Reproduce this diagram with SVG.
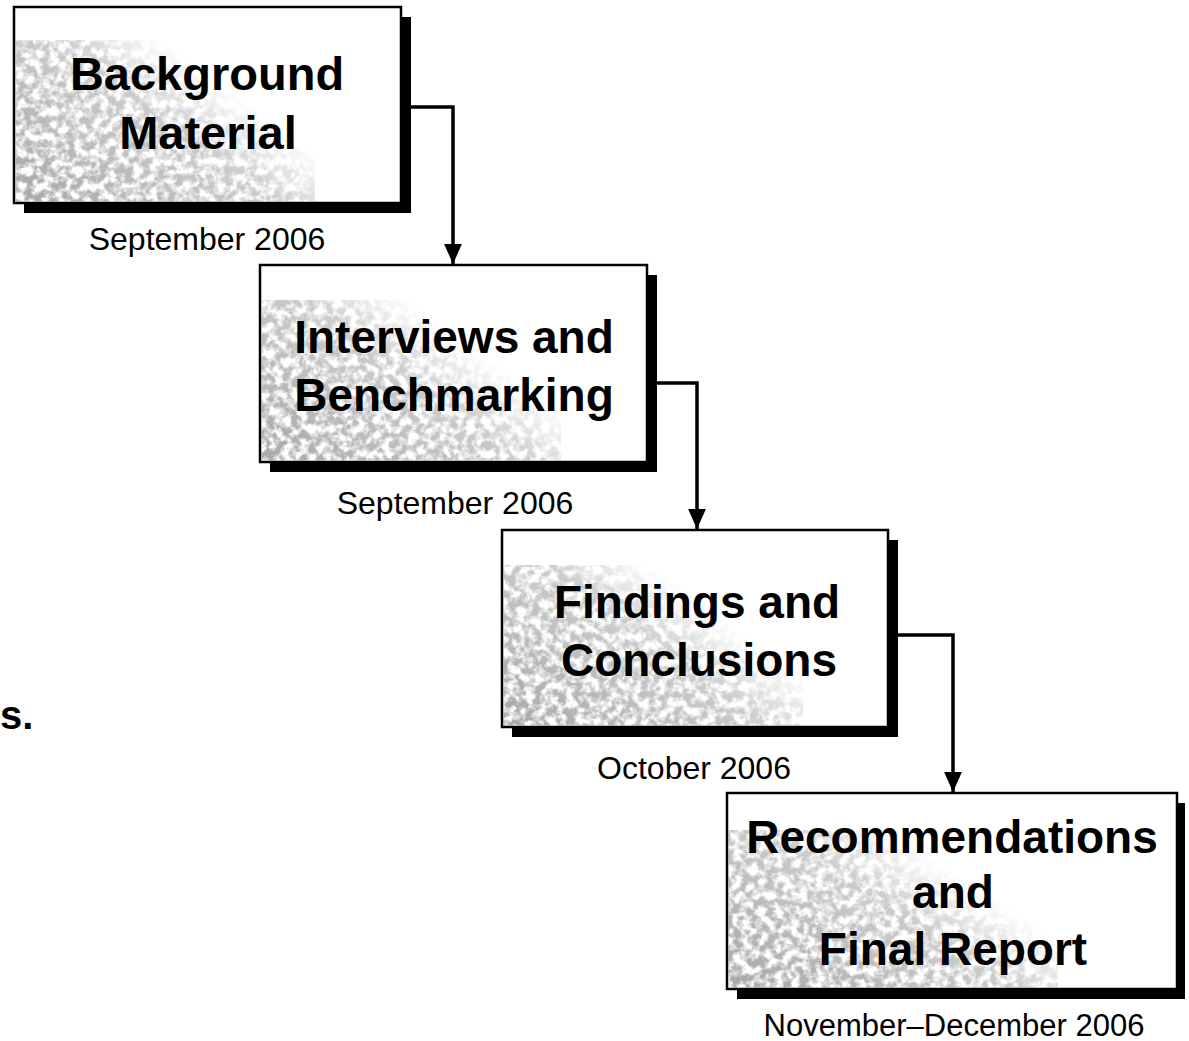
<svg xmlns="http://www.w3.org/2000/svg" width="1189" height="1041" viewBox="0 0 1189 1041">
<style>
.box{fill:#ffffff;stroke:#000;stroke-width:2.5}
.shadow{fill:#000}
.head{font-family:"Liberation Sans",Arial,sans-serif;font-weight:bold;font-size:46px;fill:#000;text-anchor:middle}
.h4{font-size:46px}
.date{font-family:"Liberation Sans",Arial,sans-serif;font-size:32px;fill:#000;text-anchor:middle}
.conn{fill:none;stroke:#000;stroke-width:3.5}
.tex{fill:url(#fade);filter:url(#grain)}
</style>
<defs>
<linearGradient id="fade" x1="0" y1="0.9" x2="0.75" y2="0.35">
<stop offset="0" stop-color="#000" stop-opacity="1"/>
<stop offset="0.7" stop-color="#000" stop-opacity="0.6"/>
<stop offset="1" stop-color="#000" stop-opacity="0"/>
</linearGradient>
<filter id="grain" x="0" y="0" width="100%" height="100%">
<feTurbulence type="fractalNoise" baseFrequency="0.12" numOctaves="3" seed="7" result="n"/>
<feColorMatrix in="n" type="matrix" values="0 0 0 0 0.4  0 0 0 0 0.4  0 0 0 0 0.4  3.6 0 0 0 -1.25" result="g"/>
<feComposite in="g" in2="SourceAlpha" operator="in"/>
</filter>
<marker id="arr" viewBox="0 0 18 16" refX="18" refY="8" markerWidth="20" markerHeight="18" markerUnits="userSpaceOnUse" orient="auto">
<path d="M0,0 L18,8 L0,16 z" fill="#000"/>
</marker>
</defs>

<g id="connectors">
<path class="conn" d="M411,107 H453 V264" marker-end="url(#arr)"/>
<path class="conn" d="M657,383 H697 V529" marker-end="url(#arr)"/>
<path class="conn" d="M898,635 H953 V792" marker-end="url(#arr)"/>
</g>

<g id="node-background">
<rect class="shadow" x="24" y="17" width="387" height="196"/>
<rect class="box" x="14" y="7" width="387" height="196"/>
<rect class="tex" x="15" y="40" width="300" height="162"/>
<text class="head" x="207" y="90" style="font-size:47px">Background</text>
<text class="head" x="208" y="149" style="font-size:47px">Material</text>
<text class="date" x="207" y="250">September 2006</text>
</g>

<g id="node-interviews">
<rect class="shadow" x="270" y="275" width="387" height="197"/>
<rect class="box" x="260" y="265" width="387" height="197"/>
<rect class="tex" x="261" y="300" width="300" height="161"/>
<text class="head" x="454" y="353">Interviews and</text>
<text class="head" x="454" y="411">Benchmarking</text>
<text class="date" x="455" y="514">September 2006</text>
</g>

<g id="node-findings">
<rect class="shadow" x="512" y="540" width="386" height="197"/>
<rect class="box" x="502" y="530" width="386" height="197"/>
<rect class="tex" x="503" y="565" width="300" height="161"/>
<text class="head" x="697" y="618">Findings and</text>
<text class="head" x="699" y="676">Conclusions</text>
<text class="date" x="694" y="779">October 2006</text>
</g>

<g id="node-recommendations">
<rect class="shadow" x="737" y="803" width="448" height="196"/>
<rect class="box" x="727" y="793" width="450" height="196"/>
<rect class="tex" x="728" y="830" width="330" height="158"/>
<text class="head h4" x="952" y="853">Recommendations</text>
<text class="head h4" x="953" y="908">and</text>
<text class="head h4" x="953" y="965">Final Report</text>
<text class="date" x="954" y="1036" style="font-size:31px">November–December 2006</text>
</g>

<text class="head" x="0" y="729" style="text-anchor:start;font-size:40px">s.</text>
</svg>
